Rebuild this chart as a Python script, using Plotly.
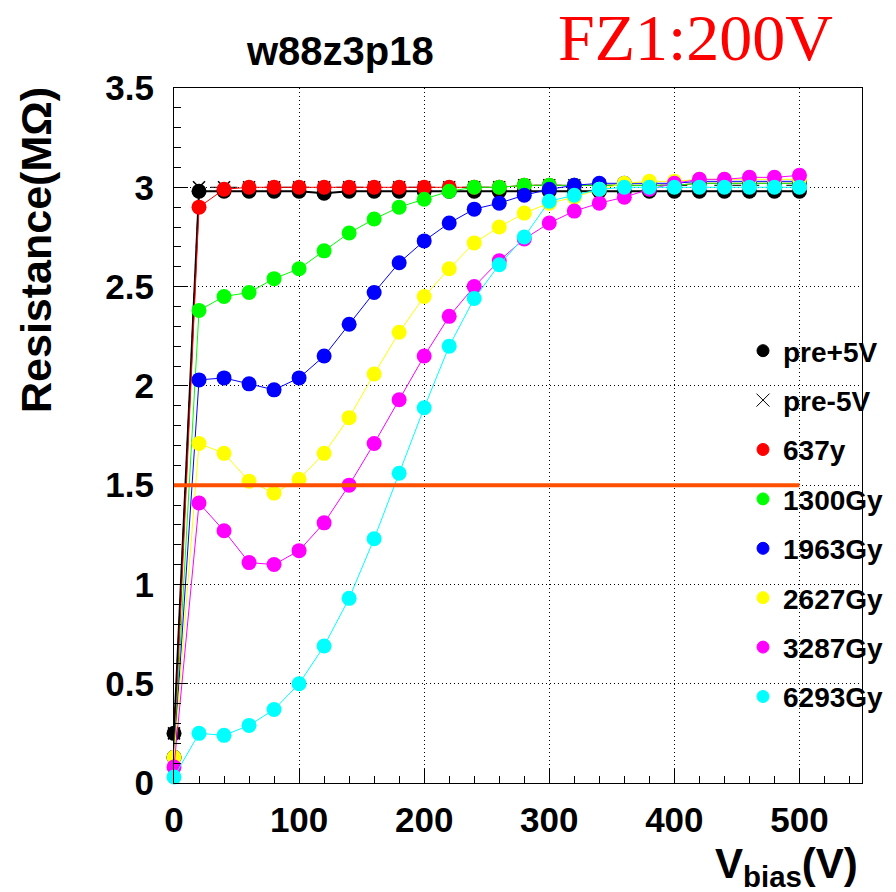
import plotly.graph_objects as go

# Bias voltage scan points (V)
v_bias = [0, 20, 40, 60, 80, 100, 120, 140, 160, 180, 200, 220, 240,
          260, 280, 300, 320, 340, 360, 380, 400, 420, 440, 460, 480, 500]

# Interstrip resistance (MOhm) for each dose step
pre_plus5 = [0.25, 2.98, 2.98, 2.98, 2.98, 2.98, 2.97, 2.98, 2.98, 2.98, 2.98, 2.98, 2.98,
             2.98, 2.98, 2.98, 2.98, 2.98, 2.98, 2.98, 2.98, 2.98, 2.98, 2.98, 2.98, 2.98]
pre_minus5 = [0.25, 3.00, 3.00, 3.00, 3.00, 3.00, 3.00, 3.00, 3.00, 3.00, 3.00, 3.00, 3.00,
              3.00, 3.01, 3.01, 3.01, 3.01, 3.01, 3.01, 3.01, 3.01, 3.01, 3.01, 3.01, 3.01]
d637 = [0.13, 2.90, 2.99, 3.00, 3.00, 3.00, 3.00, 3.00, 3.00, 3.00, 3.00, 3.00, 3.00,
        3.00, 3.01, 3.01, 3.01, 3.01, 3.01, 3.01, 3.01, 3.02, 3.02, 3.02, 3.02, 3.02]
d1300 = [0.13, 2.38, 2.45, 2.47, 2.54, 2.59, 2.68, 2.77, 2.84, 2.90, 2.94, 2.98, 3.00,
         3.00, 3.01, 3.01, 3.01, 3.01, 3.01, 3.01, 3.01, 3.02, 3.02, 3.02, 3.02, 3.02]
d1963 = [0.13, 2.03, 2.04, 2.01, 1.98, 2.04, 2.15, 2.31, 2.47, 2.62, 2.73, 2.82, 2.89,
         2.92, 2.96, 2.99, 3.01, 3.02, 3.02, 3.02, 3.02, 3.03, 3.03, 3.03, 3.03, 3.03]
d2627 = [0.13, 1.71, 1.66, 1.52, 1.46, 1.53, 1.66, 1.84, 2.06, 2.27, 2.45, 2.59, 2.72,
         2.80, 2.87, 2.92, 2.95, 2.99, 3.02, 3.03, 3.03, 3.04, 3.04, 3.04, 3.04, 3.04]
d3287 = [0.08, 1.41, 1.27, 1.11, 1.10, 1.17, 1.31, 1.50, 1.71, 1.93, 2.15, 2.35, 2.50,
         2.63, 2.74, 2.82, 2.88, 2.92, 2.95, 2.99, 3.02, 3.04, 3.04, 3.05, 3.05, 3.06]
d6293 = [0.03, 0.25, 0.24, 0.29, 0.37, 0.50, 0.69, 0.93, 1.23, 1.56, 1.89, 2.20, 2.44,
         2.61, 2.75, 2.93, 2.96, 2.99, 3.00, 3.00, 3.00, 3.00, 3.00, 3.00, 3.00, 3.00]

series_names = ["pre+5V", "pre-5V", "637y", "1300Gy", "1963Gy", "2627Gy", "3287Gy", "6293Gy"]
series_values = [pre_plus5, pre_minus5, d637, d1300, d1963, d2627, d3287, d6293]
series_colors = ["#000000", "#000000", "#ff0000", "#00ff00", "#0000ff", "#ffff00", "#ff00ff", "#00ffff"]

threshold = 1.5        # MOhm reference level
threshold_vmax = 500   # V

x_ticks = [0, 100, 200, 300, 400, 500]
y_ticks = [0, 0.5, 1, 1.5, 2, 2.5, 3, 3.5]
y_ticklabels = ["0", "0.5", "1", "1.5", "2", "2.5", "3", "3.5"]

SANS = "Liberation Sans, Arial, Helvetica, sans-serif"
SERIF = "Liberation Serif, Times New Roman, serif"

fig = go.Figure()

for i, (name, vals, col) in enumerate(zip(series_names, series_values, series_colors)):
    is_cross = name == "pre-5V"
    fig.add_trace(go.Scatter(
        x=v_bias, y=vals, mode="lines+markers", showlegend=False, cliponaxis=False,
        line=dict(color=col, width=2 if i == 0 else 1, dash="dash" if is_cross else "solid"),
        marker=dict(symbol="x-thin" if is_cross else "circle", size=12 if is_cross else 15,
                    color=col, line=dict(color=col, width=1.5 if is_cross else 0)),
    ))

# Marker-only legend entries
for i, (name, col) in enumerate(zip(series_names, series_colors)):
    is_cross = name == "pre-5V"
    fig.add_trace(go.Scatter(
        x=[None], y=[None], mode="markers", name=name, legendgroup=f"g{i}",
        marker=dict(symbol="x-thin" if is_cross else "circle", size=13 if is_cross else 12,
                    color=col, line=dict(color=col, width=1)),
    ))

fig.add_shape(type="line", xref="x", yref="y", x0=0, x1=threshold_vmax, y0=threshold, y1=threshold,
              line=dict(color="#ff5000", width=4), layer="above")

axis_common = dict(
    showline=True, linecolor="black", linewidth=1, mirror=True,
    showgrid=True, gridcolor="black", griddash="1px,3px", gridwidth=1,
    ticks="inside", ticklen=14, tickcolor="black", tickwidth=1,
    tickfont=dict(family=SANS, size=35, color="black", weight="bold"),
    zeroline=False,
)

fig.update_xaxes(range=[0, 550], tickvals=x_ticks, ticktext=[str(t) for t in x_ticks],
                 minor=dict(ticks="inside", ticklen=7, dtick=20, tick0=0, tickcolor="black", showgrid=False),
                 ticklabelstandoff=6, **axis_common)
fig.update_yaxes(range=[0, 3.5], tickvals=y_ticks, ticktext=y_ticklabels,
                 minor=dict(ticks="inside", ticklen=7, dtick=0.1, tick0=0, tickcolor="black", showgrid=False),
                 ticklabelstandoff=12, **axis_common)

fig.add_annotation(text="w88z3p18", xref="paper", yref="paper", x=(340 - 174) / 688, y=1 + (88 - 51) / 695,
                   showarrow=False, xanchor="center", yanchor="middle",
                   font=dict(family=SANS, size=40, color="black", weight="bold"))
fig.add_annotation(text="FZ1:200V", xref="paper", yref="paper", x=(695 - 174) / 688, y=1 + (88 - 37) / 695,
                   showarrow=False, xanchor="center", yanchor="middle",
                   font=dict(family=SERIF, size=66, color="#ff0000"))
fig.add_annotation(text="Resistance(MΩ)", xref="paper", yref="paper", x=(36 - 174) / 688, y=(783 - 250) / 695,
                   showarrow=False, textangle=-90, xanchor="center", yanchor="middle",
                   font=dict(family=SANS, size=43, color="black", weight="bold"))
fig.add_annotation(text="V<sub>bias</sub>(V)", xref="paper", yref="paper", x=(860 - 174) / 688, y=(783 - 866) / 695,
                   showarrow=False, xanchor="right", yanchor="middle",
                   font=dict(family=SANS, size=42, color="black", weight="bold"))

fig.update_layout(
    width=896, height=892,
    margin=dict(l=174, r=34, t=88, b=109, autoexpand=False),
    paper_bgcolor="white", plot_bgcolor="white",
    legend=dict(x=(743 - 174) / 688, y=(783 - 326) / 695, xanchor="left", yanchor="top",
                bgcolor="rgba(0,0,0,0)", borderwidth=0, traceorder="grouped", tracegroupgap=10,
                font=dict(family=SANS, size=28, color="black", weight="bold")),
)

fig.write_html("out.html")
